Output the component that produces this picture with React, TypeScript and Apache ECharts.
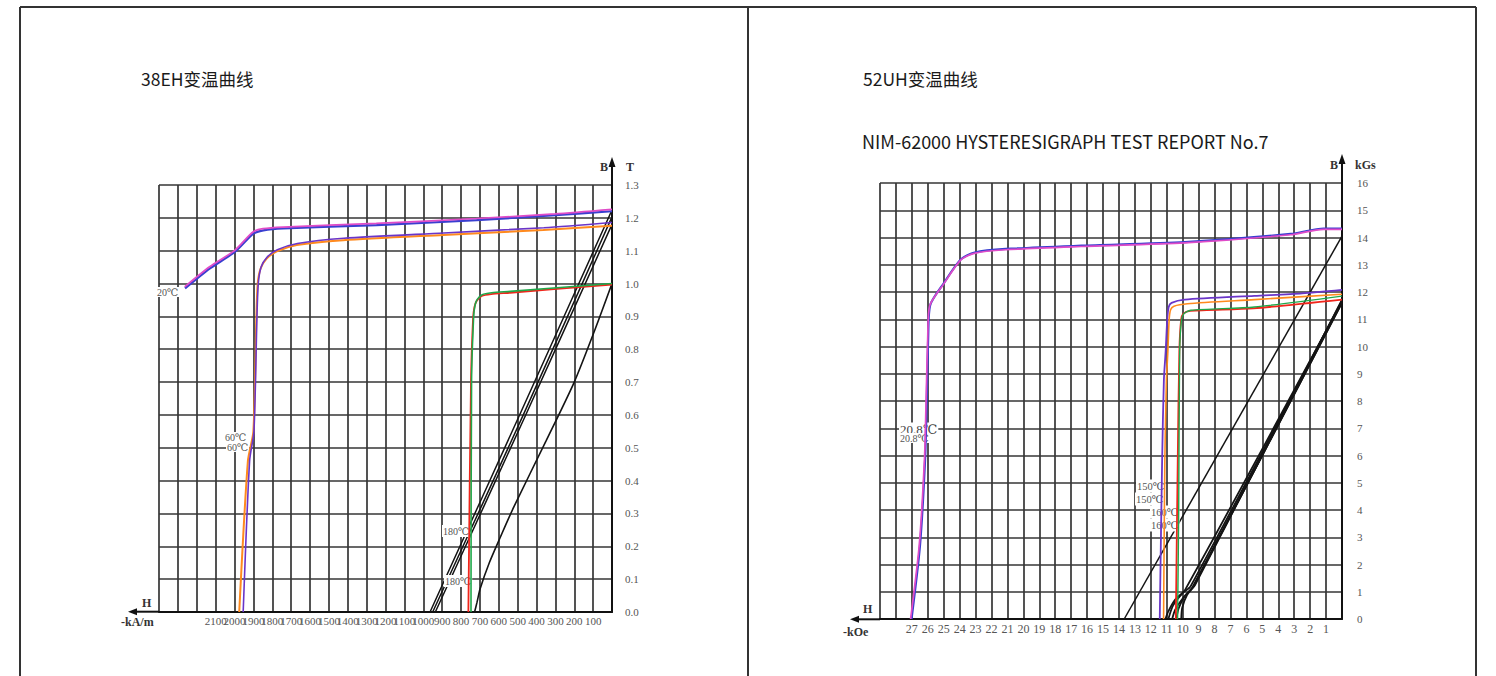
import React, { useEffect, useRef } from 'react';
import * as echarts from 'echarts';

// ---------------- 38EH (H in kA/m, B in T) ----------------
const ehXLabels = [2100, 2000, 1900, 1800, 1700, 1600, 1500, 1400, 1300, 1200, 1100, 1000, 900, 800, 700, 600, 500, 400, 300, 200, 100];

const eh20BlueH = [2262, 2130, 1997, 1900, 1847, 1741, 1247, 717, 300, 0];
const eh20BlueB = [0.985, 1.046, 1.097, 1.152, 1.162, 1.168, 1.178, 1.193, 1.208, 1.220];
const eh20PinkH = [2264, 2132, 1999, 1902, 1849, 1743, 1249, 719, 302, 0];
const eh20PinkB = [0.990, 1.051, 1.101, 1.157, 1.167, 1.172, 1.183, 1.198, 1.212, 1.226];

const eh60OrangeH = [1975, 1929, 1900, 1884, 1877, 1862, 1831, 1776, 1670, 1424, 894, 364, 0];
const eh60OrangeB = [0, 0.46, 0.55, 0.90, 1.00, 1.045, 1.075, 1.098, 1.117, 1.132, 1.148, 1.163, 1.176];
const eh60PurpleH = [1954, 1920, 1897, 1881, 1874, 1859, 1828, 1773, 1667, 1421, 891, 361, 0];
const eh60PurpleB = [0, 0.46, 0.55, 0.90, 1.00, 1.05, 1.08, 1.103, 1.122, 1.138, 1.154, 1.170, 1.186];

const eh180RedH = [761, 747, 736, 729, 718, 690, 640, 540, 0];
const eh180RedB = [0, 0.705, 0.895, 0.928, 0.946, 0.962, 0.968, 0.972, 0.997];
const eh180GreenH = [747, 744, 733, 726, 715, 688, 638, 540, 0];
const eh180GreenB = [0, 0.705, 0.900, 0.933, 0.951, 0.966, 0.972, 0.976, 1.000];

const ehNormA_H = [964, 480, 0];
const ehNormA_B = [0, 0.612, 1.224];
const ehNormB_H = [950, 470, 0];
const ehNormB_B = [0, 0.600, 1.203];
const ehNormC_H = [936, 465, 0];
const ehNormC_B = [0, 0.590, 1.180];
const ehNorm180H = [728, 715, 699, 650, 590, 520, 350, 200, 90, 0];
const ehNorm180B = [0, 0.03, 0.07, 0.15, 0.23, 0.32, 0.52, 0.70, 0.86, 1.0];

// ---------------- 52UH (H in kOe, B in kGs) ----------------
const uhXLabels = [27, 26, 25, 24, 23, 22, 21, 20, 19, 18, 17, 16, 15, 14, 13, 12, 11, 10, 9, 8, 7, 6, 5, 4, 3, 2, 1];

const uh20BlueH = [27.02, 26.49, 26.17, 26.07, 25.97, 25.85, 25.00, 23.92, 23.06, 21.11, 16.36, 9.86, 3.22, 1.15, 0];
const uh20BlueB = [0, 2.69, 5.85, 7.93, 10.45, 11.52, 12.32, 13.20, 13.45, 13.58, 13.70, 13.83, 14.13, 14.33, 14.33];
const uh20PinkH = [27.08, 26.54, 26.21, 26.11, 26.00, 25.88, 25.02, 23.94, 23.08, 21.13, 16.38, 9.88, 3.24, 1.17, 0];
const uh20PinkB = [0, 2.69, 5.85, 7.93, 10.45, 11.50, 12.28, 13.17, 13.42, 13.55, 13.67, 13.80, 14.10, 14.30, 14.30];

const uh150PurpleH = [11.44, 11.29, 11.18, 11.07, 10.97, 10.88, 10.70, 9.88, 5.5, 2.5, 0];
const uh150PurpleB = [0, 5.85, 8.78, 9.82, 10.98, 11.45, 11.60, 11.72, 11.86, 11.95, 12.08];
const uh150OrangeH = [11.20, 11.12, 11.02, 10.93, 10.85, 10.76, 10.55, 9.70, 5.5, 0];
const uh150OrangeB = [0, 5.85, 8.78, 9.82, 10.98, 11.35, 11.48, 11.57, 11.72, 11.92];

const uh160RedH = [10.43, 10.31, 10.21, 10.10, 9.97, 9.53, 5.57, 0];
const uh160RedB = [0, 5.85, 9.82, 10.98, 11.20, 11.31, 11.40, 11.72];
const uh160GreenH = [10.32, 10.25, 10.19, 10.08, 9.93, 9.50, 5.50, 0];
const uh160GreenB = [0, 4.0, 9.82, 10.95, 11.20, 11.33, 11.45, 11.85];

const uhNorm20H = [13.67, 0];
const uhNorm20B = [0, 14.05];
const uhBundleA_H = [11.08, 10.91, 10.47, 9.84, 0];
const uhBundleA_B = [0, 0.27, 0.71, 1.08, 11.65];
const uhBundleB_H = [10.66, 10.47, 9.97, 9.40, 0];
const uhBundleB_B = [0, 0.34, 0.78, 1.15, 11.60];
const uhBundleC_H = [10.09, 10.03, 9.72, 9.21, 0];
const uhBundleC_B = [0, 0.41, 0.89, 1.26, 11.72];
const uhBundleD_H = [10.90, 10.60, 10.00, 9.50, 0];
const uhBundleD_B = [0, 0.50, 0.95, 1.20, 11.68];
const uhBundleE_H = [10.40, 10.25, 9.85, 9.30, 0];
const uhBundleE_B = [0, 0.40, 0.85, 1.22, 11.62];

const C = {
  blue: '#3a3fd0',
  pink: '#e04cc8',
  purple: '#6a35c8',
  orange: '#ff8a1e',
  red: '#f0261c',
  green: '#1fa84a',
  black: '#141414',
  grid: '#363636',
};

const SERIF = '"Liberation Serif", "DejaVu Serif", serif';
const CJK = '"Noto Sans CJK SC", "Noto Sans", sans-serif';

function line(idx: number, H: number[], B: number[], color: string, width: number, z: number) {
  return {
    type: 'line',
    xAxisIndex: idx,
    yAxisIndex: idx,
    data: H.map((h, i) => [h, B[i]]),
    symbol: 'none',
    smooth: 0.25,
    smoothMonotone: 'none',
    lineStyle: { color, width },
    itemStyle: { color },
    z,
    silent: true,
    animation: false,
  };
}

function txt(x: number, y: number, text: string, size: number, extra: any = {}) {
  return {
    type: 'text',
    x,
    y,
    z: extra.z ?? 3,
    silent: true,
    style: {
      text,
      fill: extra.fill ?? '#555',
      fontSize: size,
      fontFamily: extra.family ?? SERIF,
      fontWeight: extra.weight ?? 'normal',
      align: extra.align ?? 'left',
      verticalAlign: 'middle',
      backgroundColor: extra.bg,
      padding: extra.pad,
    },
  };
}

function ln(x1: number, y1: number, x2: number, y2: number, w: number, color = '#333') {
  return { type: 'line', silent: true, z: 1, shape: { x1, y1, x2, y2 }, style: { stroke: color, lineWidth: w } };
}

function arrow(points: number[][]) {
  return { type: 'polygon', silent: true, z: 1, shape: { points }, style: { fill: '#111' } };
}

export default function App() {
  const ref = useRef<HTMLDivElement>(null);
  useEffect(() => {
    if (!ref.current) return;
    const chart = echarts.init(ref.current, undefined, { renderer: 'svg' });
    const splitStyle = { show: true, lineStyle: { color: C.grid, width: 1.7 } };
    const option: any = {
      animation: false,
      backgroundColor: '#fff',
      grid: [
        { left: 159, top: 185, width: 453, height: 427 },
        { left: 880, top: 183, width: 462, height: 436 },
      ],
      xAxis: [
        {
          gridIndex: 0, type: 'value', inverse: true, min: 0, max: 2400, interval: 100,
          axisLine: { show: true, onZero: false, lineStyle: { color: '#111', width: 2 } },
          axisTick: { show: false },
          axisLabel: {
            formatter: (v: number) => (ehXLabels.includes(v) ? String(v) : ''),
            fontFamily: SERIF, fontSize: 11, color: '#555', margin: 3,
          },
          splitLine: splitStyle,
        },
        {
          gridIndex: 1, type: 'value', inverse: true, min: 0, max: 29, interval: 1,
          axisLine: { show: true, onZero: false, lineStyle: { color: '#111', width: 2 } },
          axisTick: { show: false },
          axisLabel: {
            formatter: (v: number) => (uhXLabels.includes(v) ? String(v) : ''),
            fontFamily: SERIF, fontSize: 12, color: '#555', margin: 4,
          },
          splitLine: splitStyle,
        },
      ],
      yAxis: [
        {
          gridIndex: 0, type: 'value', position: 'right', min: 0, max: 1.3, interval: 0.1,
          axisLine: { show: true, onZero: false, lineStyle: { color: '#111', width: 2 } },
          axisTick: { show: false },
          axisLabel: { formatter: (v: number) => v.toFixed(1), fontFamily: SERIF, fontSize: 11, color: '#555', margin: 13 },
          splitLine: splitStyle,
        },
        {
          gridIndex: 1, type: 'value', position: 'right', min: 0, max: 16, interval: 1,
          axisLine: { show: true, onZero: false, lineStyle: { color: '#111', width: 2 } },
          axisTick: { show: false },
          axisLabel: { fontFamily: SERIF, fontSize: 11, color: '#555', margin: 15 },
          splitLine: splitStyle,
        },
      ],
      series: [
        // 38EH
        line(0, eh20BlueH, eh20BlueB, C.blue, 2.2, 4),
        line(0, eh20PinkH, eh20PinkB, C.pink, 1.7, 5),
        line(0, eh60OrangeH, eh60OrangeB, C.orange, 2, 4),
        line(0, eh60PurpleH, eh60PurpleB, C.purple, 1.6, 5),
        line(0, ehNormA_H, ehNormA_B, C.black, 1.5, 2),
        line(0, ehNormB_H, ehNormB_B, C.black, 1.5, 2),
        line(0, ehNormC_H, ehNormC_B, C.black, 1.5, 2),
        line(0, ehNorm180H, ehNorm180B, C.black, 1.6, 2),
        line(0, eh180RedH, eh180RedB, C.red, 1.8, 5),
        line(0, eh180GreenH, eh180GreenB, C.green, 1.6, 5),
        // 52UH
        line(1, uhNorm20H, uhNorm20B, C.black, 1.5, 2),
        line(1, uhBundleA_H, uhBundleA_B, C.black, 1.8, 2),
        line(1, uhBundleB_H, uhBundleB_B, C.black, 1.8, 2),
        line(1, uhBundleC_H, uhBundleC_B, C.black, 1.8, 2),
        line(1, uhBundleD_H, uhBundleD_B, C.black, 1.8, 2),
        line(1, uhBundleE_H, uhBundleE_B, C.black, 1.8, 2),
        line(1, uh20BlueH, uh20BlueB, C.blue, 2.2, 4),
        line(1, uh20PinkH, uh20PinkB, C.pink, 1.7, 5),
        line(1, uh150PurpleH, uh150PurpleB, C.purple, 1.8, 5),
        line(1, uh150OrangeH, uh150OrangeB, C.orange, 1.6, 5),
        line(1, uh160RedH, uh160RedB, C.red, 1.8, 5),
        line(1, uh160GreenH, uh160GreenB, C.green, 1.4, 5),
      ],
      graphic: [
        // panel frame
        ln(20, 7, 1476, 7, 2),
        ln(20, 7, 20, 676, 2),
        ln(748, 7, 748, 676, 2),
        ln(1476, 7, 1476, 676, 2),
        // titles
        txt(141, 78, '38EH变温曲线', 17.5, { family: CJK, fill: '#1a1a1a', weight: 400 }),
        txt(863, 78, '52UH变温曲线', 17.5, { family: CJK, fill: '#1a1a1a', weight: 400 }),
        txt(862, 141, 'NIM-62000 HYSTERESIGRAPH TEST REPORT No.7', 18, { family: CJK, fill: '#1a1a1a', weight: 400 }),
        // left axis decorations
        ln(612, 185, 612, 163, 2, '#111'),
        arrow([[612, 157], [608.5, 167], [615.5, 167]]),
        txt(600, 167, 'B', 12, { weight: 'bold', fill: '#333' }),
        txt(626, 167, 'T', 12, { weight: 'bold', fill: '#333' }),
        ln(159, 611.7, 136, 611.7, 2, '#111'),
        arrow([[128, 611.7], [137, 608.2], [137, 615.2]]),
        txt(142, 603, 'H', 12, { weight: 'bold', fill: '#333' }),
        txt(121, 622, '-kA/m', 12, { weight: 'bold', fill: '#333' }),
        // right axis decorations
        ln(1342, 183, 1342, 160, 2, '#111'),
        arrow([[1342, 154], [1338.5, 164], [1345.5, 164]]),
        txt(1330, 165, 'B', 12, { weight: 'bold', fill: '#333' }),
        txt(1355, 165, 'kGs', 12, { weight: 'bold', fill: '#333' }),
        ln(880, 619.3, 858, 619.3, 2, '#111'),
        arrow([[850, 619.3], [859, 615.8], [859, 622.8]]),
        txt(863, 609, 'H', 12, { weight: 'bold', fill: '#333' }),
        txt(843, 632, '-kOe', 12, { weight: 'bold', fill: '#333' }),
        // curve annotations, left
        txt(156, 292, '20℃', 10, { bg: '#fff', pad: [0, 1] }),
        txt(224, 437, '60℃', 10, { bg: '#fff', pad: [0, 1] }),
        txt(226, 447, '60℃', 10, { bg: '#fff', pad: [0, 1] }),
        txt(442, 531, '180℃', 10, { bg: '#fff', pad: [1, 1] }),
        txt(444, 581, '180℃', 10, { bg: '#fff', pad: [1, 1] }),
        // curve annotations, right
        txt(899, 429, '20.8℃', 13, { bg: '#fff', pad: [0, 1], fill: '#444' }),
        txt(899, 438, '20.8℃', 10, { bg: '#fff', pad: [0, 1] }),
        txt(1136, 486, '150℃', 10.5, { bg: '#fff', pad: [1, 1] }),
        txt(1135, 499, '150℃', 10.5, { bg: '#fff', pad: [1, 1] }),
        txt(1150, 512, '160℃', 10.5, { bg: '#fff', pad: [1, 1] }),
        txt(1150, 525, '160℃', 10.5, { bg: '#fff', pad: [1, 1] }),
      ],
    };
    chart.setOption(option);
    return () => chart.dispose();
  }, []);
  return (
    <div
      ref={ref}
      style={{ position: 'fixed', left: 0, top: 0, width: 1496, height: 676, background: '#fff' }}
    />
  );
}
